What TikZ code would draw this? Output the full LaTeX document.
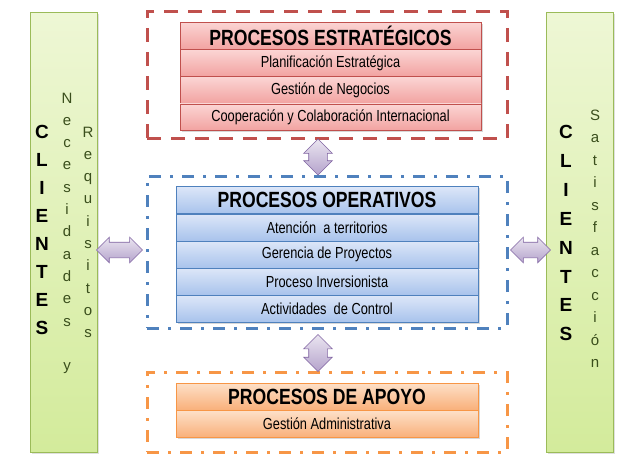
\documentclass[tikz,border=0pt]{standalone}
\usepackage{fontspec}
\setmainfont{Liberation Sans}
\newfontfamily\condfont[FakeStretch=0.8]{Liberation Sans}
\usetikzlibrary{positioning}
\usetikzlibrary{calc}
\usetikzlibrary{shapes.arrows}
\usetikzlibrary{shadows}

\definecolor{estline}{HTML}{C0504D}
\definecolor{esttop}{HTML}{FBD5D4}
\definecolor{estbot}{HTML}{F2A3A1}
\definecolor{opline}{HTML}{4F81BD}
\definecolor{optop}{HTML}{DCE6F8}
\definecolor{opbot}{HTML}{A8C3EC}
\definecolor{apline}{HTML}{F79646}
\definecolor{aptop}{HTML}{FDE0C8}
\definecolor{apbot}{HTML}{F9B07A}
\definecolor{clitop}{HTML}{EEF7D5}
\definecolor{clibot}{HTML}{D3EB9B}
\definecolor{cliline}{HTML}{9BBB59}
\definecolor{clitext}{HTML}{3A4E1C}
\definecolor{arrline}{HTML}{8064A2}
\definecolor{arrtop}{HTML}{EAE5F0}
\definecolor{arrbot}{HTML}{B5A3CC}

\tikzset{
    procbox/.style={rectangle, inner sep=0pt, minimum height=26.5pt, line width=0.6pt,
        font=\condfont\fontsize{16}{18}\selectfont,
        drop shadow={shadow xshift=1.5pt, shadow yshift=-1.5pt, opacity=0.3}},
    titlebox/.style={font=\condfont\bfseries\fontsize{22}{24}\selectfont, minimum height=27pt},
    estbox/.style={procbox, draw=estline, top color=esttop, bottom color=estbot, minimum width=301pt},
    opbox/.style={procbox, draw=opline, top color=optop, bottom color=opbot, minimum width=302pt},
    apbox/.style={procbox, draw=apline, top color=aptop, bottom color=apbot, minimum width=302pt},
    frame/.style={rectangle, inner sep=0pt, line width=3pt, minimum width=360pt},
    clipanel/.style={rectangle, draw=cliline, line width=0.8pt, top color=clitop, bottom color=clibot,
        minimum width=67pt, minimum height=440pt, inner sep=0pt,
        drop shadow={shadow xshift=1.5pt, shadow yshift=-1.5pt, opacity=0.25}},
    bigletter/.style={font=\bfseries\fontsize{19}{21}\selectfont, inner sep=0pt, anchor=base},
    smallletter/.style={font=\fontsize{15}{17}\selectfont, text=clitext, inner sep=0pt, anchor=base},
    dblarrow/.style={double arrow, draw=arrline, line width=0.6pt, top color=arrtop, bottom color=arrbot,
        inner xsep=0pt, double arrow head extend=5pt, double arrow head indent=0pt}
}

\begin{document}
\begin{tikzpicture}[x=1pt, y=1pt]
    \useasboundingbox[fill=white] (0,0) rectangle (635,-474);
    % clientes
    \node[clipanel] (cliL) at (63.5,-232) {};
    \node[clipanel] (cliR) at (579.5,-232) {};
    \foreach \ch [count=\i from 0] in {C,L,I,E,N,T,E,S}
        \node[bigletter] (cliL-\i) at (42, {-(138.5+28*\i)}) {\ch};
    \foreach \ch [count=\i from 0] in {N,e,c,e,s,i,d,a,d,e,s}
        \node[smallletter] (nec-\i) at (67, {-(103+22.3*\i)}) {\ch};
    \node[smallletter] (nec-y) at (67, -370.6) {y};
    \foreach \ch [count=\i from 0] in {R,e,q,u,i,s,i,t,o,s}
        \node[smallletter] (req-\i) at (88, {-(137+22.3*\i)}) {\ch};
    \foreach \ch [count=\i from 0] in {C,L,I,E,N,T,E,S}
        \node[bigletter] (cliR-\i) at (566, {-(138.5+28.9*\i)}) {\ch};
    \foreach \ch [count=\i from 0] in {S,a,t,i,s,f,a,c,c,i,ó,n}
        \node[smallletter] (sat-\i) at (595, {-(120+22.5*\i)}) {\ch};

    % marcos
    \node[frame, draw=estline, dash pattern=on 14pt off 10pt, minimum height=127pt] (estFrame) at (327,-74.5) {};
    \node[frame, draw=opline, dash pattern=on 12pt off 9pt on 3pt off 9pt, minimum height=152pt] (opFrame) at (327,-252) {};
    \node[frame, draw=apline, dash pattern=on 12pt off 9pt on 3pt off 9pt, minimum height=80pt] (apFrame) at (327,-412) {};

    % procesos estrategicos
    \node[estbox, titlebox] (estT) at (330.5,-35.5) {PROCESOS ESTRATÉGICOS};
    \node[estbox, below=0pt of estT] (est1) {Planificación  Estratégica};
    \node[estbox, below=0pt of est1] (est2) {Gestión  de Negocios};
    \node[estbox, below=0pt of est2] (est3) {Cooperación  y Colaboración Internacional};

    % procesos operativos
    \node[opbox, titlebox] (opT) at (327,-200.25) {PROCESOS OPERATIVOS};
    \node[opbox, below=0pt of opT] (op1) {Atención \ a territorios};
    \node[opbox, below=0pt of op1] (op2) {Gerencia  de Proyectos};
    \node[opbox, below=0pt of op2] (op3) {Proceso Inversionista};
    \node[opbox, below=0pt of op3] (op4) {Actividades \ de Control};

    % procesos de apoyo
    \node[apbox, titlebox] (apT) at (327,-396.5) {PROCESOS DE APOYO};
    \node[apbox, below=0pt of apT] (ap1) {Gestión  Administrativa};

    % flechas
    \node[dblarrow, rotate=90, inner ysep=9pt, minimum width=28pt, minimum height=36pt]
        (arrUp) at ($(estFrame.south)!0.5!(opFrame.north)+(-9,0)$) {};
    \node[dblarrow, rotate=90, inner ysep=9pt, minimum width=28pt, minimum height=37pt]
        (arrDn) at ($(opFrame.south)!0.5!(apFrame.north)+(-9,-3)$) {};
    \node[dblarrow, inner ysep=7.5pt, minimum width=25pt, minimum height=46pt]
        (arrL) at ($(cliL.east)!0.5!(opFrame.west)+(-2,-8)$) {};
    \node[dblarrow, inner ysep=7.5pt, minimum width=25pt, minimum height=40pt]
        (arrR) at ($(opFrame.east)!0.5!(cliR.west)+(3.5,-8)$) {};
\end{tikzpicture}
\end{document}
